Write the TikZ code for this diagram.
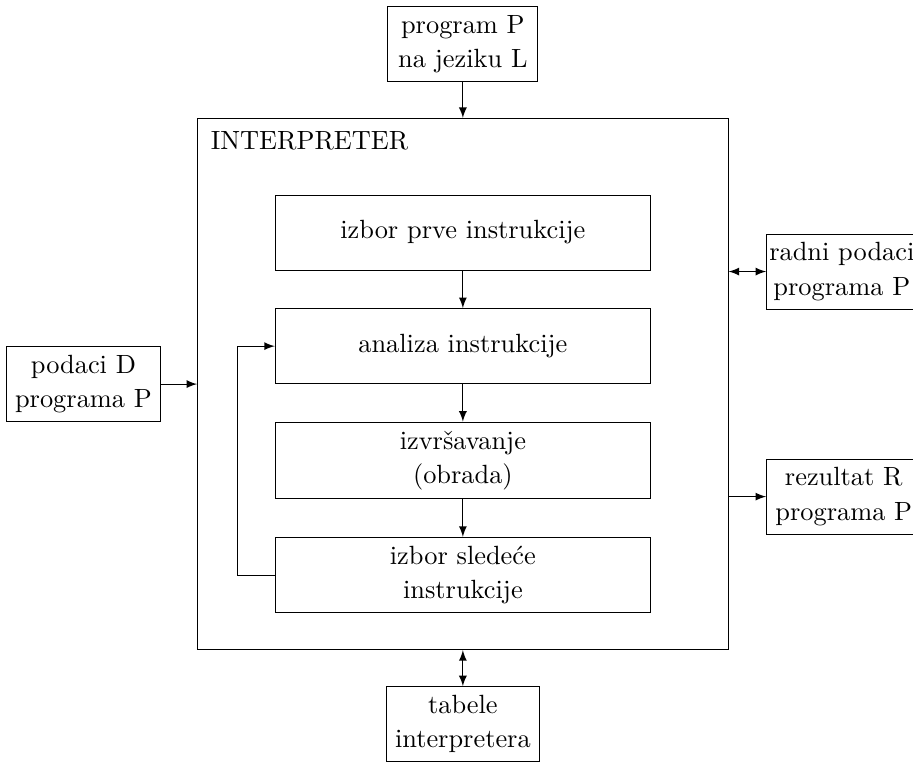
\documentclass[tikz,border=0pt]{standalone}
\usepackage{fontspec}
\usetikzlibrary{positioning}

\begin{document}
\begin{tikzpicture}[>=latex,
  every node/.style={font=\linespread{1.08}\selectfont},
  korak/.style={draw, minimum width=5cm, minimum height=1cm, align=center},
  spolja/.style={draw, minimum width=2cm, minimum height=1cm, inner ysep=2.5pt, align=center}]
  \useasboundingbox (0,0) rectangle (12.17,10.17);

  % interpreter
  \node[draw, minimum width=7.07cm, minimum height=7.08cm] (interp) at (6.17,5.05) {};
  \node[anchor=north west, inner sep=5pt] (naslov) at (interp.north west) {INTERPRETER};

  % koraci unutar interpretera
  \node[korak] (prva) at (6.17,7.07) {izbor prve instrukcije};
  \node[korak, below=0.5cm of prva] (analiza) {analiza instrukcije};
  \node[korak, below=0.5cm of analiza] (obrada) {izvršavanje\\(obrada)};
  \node[korak, below=0.5cm of obrada] (sledeca) {izbor sledeće\\instrukcije};

  % okolina
  \node[spolja, above=0.48cm of interp] (program) {program P\\na jeziku L};
  \node[spolja, left=0.48cm of interp] (podaci) {podaci D\\programa P};
  \node[spolja, inner xsep=1pt, right=0.5cm of interp, yshift=1.5cm] (radni) {radni podaci\\programa P};
  \node[spolja, right=0.5cm of interp, yshift=-1.5cm] (rezultat) {rezultat R\\programa P};
  \node[spolja, below=0.48cm of interp] (tabele) {tabele\\interpretera};

  % veze
  \draw[->] (program.south) -- (interp.north);
  \draw[->] (podaci.east) -- (interp.west);
  \draw[<->] (interp.east |- radni.west) -- (radni.west);
  \draw[->] (interp.east |- rezultat.west) -- (rezultat.west);
  \draw[<->] (interp.south) -- (tabele.north);

  \draw[->] (prva) -- (analiza);
  \draw[->] (analiza) -- (obrada);
  \draw[->] (obrada) -- (sledeca);
  \draw[->] (sledeca.west) -- ++(-0.5,0) |- (analiza.west);
\end{tikzpicture}
\end{document}
